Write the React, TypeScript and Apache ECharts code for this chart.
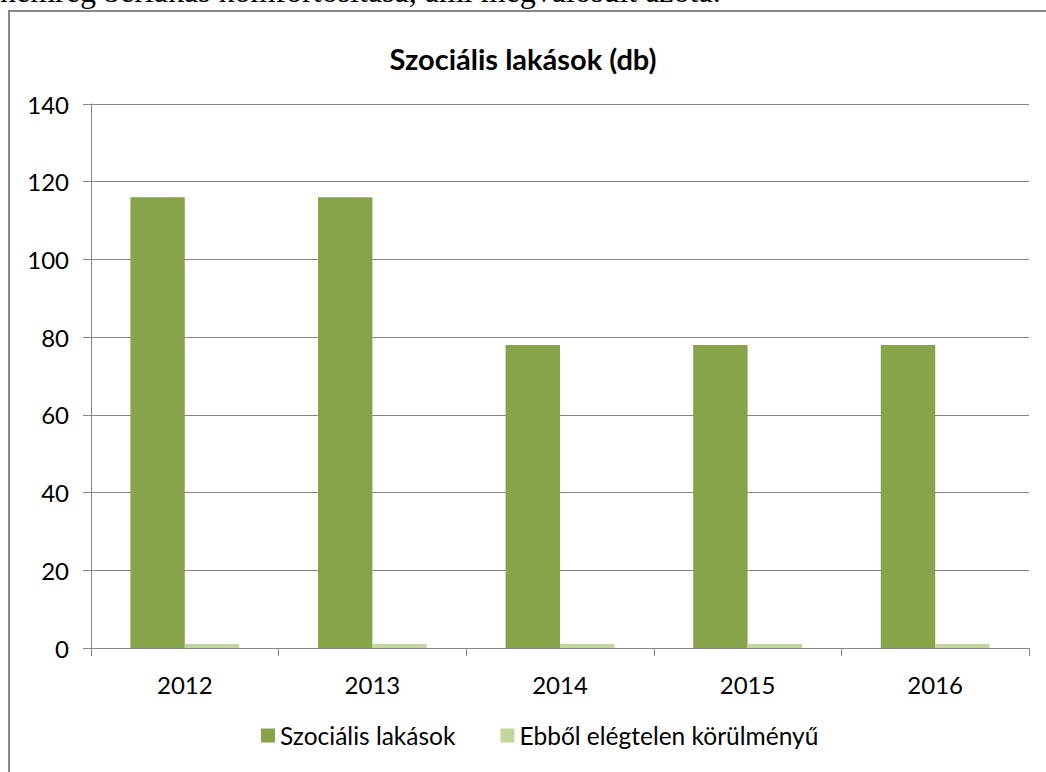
import React, { useEffect, useRef } from "react";
import * as echarts from "echarts";

const years = ["2012", "2013", "2014", "2015", "2016"];
const socialHousing = [116, 116, 78, 78, 78];
const inadequate = [1, 1, 1, 1, 1];
const seriesNames = ["Szociális lakások", "Ebből elégtelen körülményű"];
const titleText = "Szociális lakások (db)";
const topText = "nemrég bérlakás komfortosítása, ami megvalósult azóta.";

const FONT = "Lato, 'Open Sans', sans-serif";

export default function App() {
  const ref = useRef<HTMLDivElement>(null);
  useEffect(() => {
    document.body.style.margin = "0";
    const chart = echarts.init(ref.current!, null, { renderer: "svg" });
    chart.setOption({
      animation: false,
      backgroundColor: "#ffffff",
      title: {
        text: titleText,
        left: "center",
        top: 39,
        textStyle: { fontFamily: FONT, fontSize: 29, fontWeight: "bold", color: "#000" },
      },
      graphic: [
        {
          type: "text",
          x: 0,
          y: 7,
          style: {
            text: topText,
            font: "32px 'Liberation Serif', 'DejaVu Serif', serif",
            fill: "#000",
            verticalAlign: "bottom",
          },
        },
        {
          type: "rect",
          shape: { x: 9, y: 11, width: 1046, height: 800 },
          style: { fill: "none", stroke: "#888888", lineWidth: 2 },
          z: 10,
        },
      ],
      legend: {
        bottom: 19,
        left: 256,
        itemWidth: 14,
        itemHeight: 14,
        itemGap: 45,
        icon: "rect",
        textStyle: { fontFamily: FONT, fontSize: 24.5, color: "#000" },
        data: seriesNames,
      },
      grid: { left: 91, right: 17, top: 104, bottom: 124 },
      xAxis: {
        type: "category",
        data: years,
        axisLine: { show: true, lineStyle: { color: "#868686", width: 1 } },
        axisTick: { show: true, length: 8, lineStyle: { color: "#868686" } },
        axisLabel: { fontFamily: FONT, fontSize: 24, color: "#000", margin: 24 },
      },
      yAxis: {
        type: "value",
        min: 0,
        max: 140,
        interval: 20,
        axisLine: { show: true, lineStyle: { color: "#868686", width: 1 } },
        axisTick: { show: true, length: 8, lineStyle: { color: "#868686" } },
        axisLabel: { fontFamily: FONT, fontSize: 24, color: "#000", margin: 22 },
        splitLine: { show: true, lineStyle: { color: "#868686", width: 1 } },
      },
      series: [
        {
          name: seriesNames[0],
          type: "bar",
          data: socialHousing,
          itemStyle: { color: "#87a44b" },
          barGap: "0%",
          barCategoryGap: "42%",
        },
        {
          name: seriesNames[1],
          type: "bar",
          data: inadequate,
          itemStyle: { color: "#c2d59b" },
        },
      ],
    });
    return () => chart.dispose();
  }, []);
  return <div ref={ref} style={{ width: 1046, height: 772 }} />;
}
